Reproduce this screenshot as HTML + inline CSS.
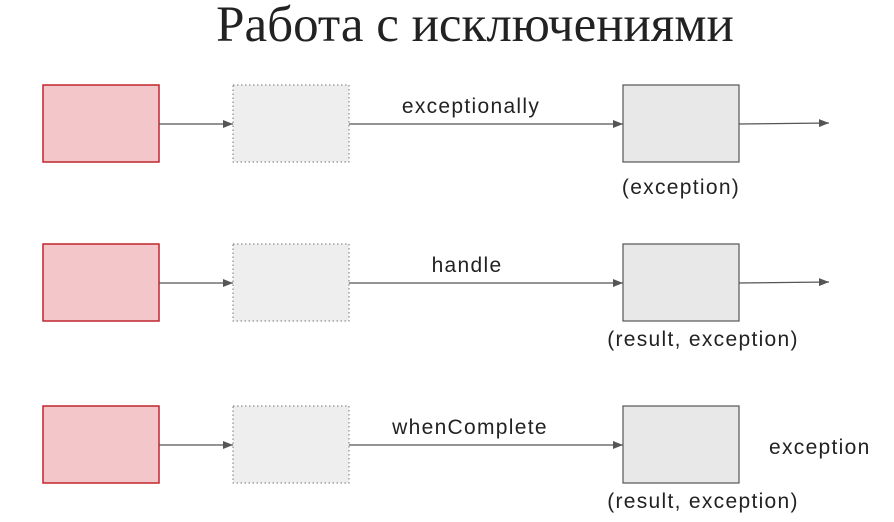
<!DOCTYPE html>
<html><head><meta charset="utf-8"><style>
html,body{margin:0;padding:0;background:#fff;width:894px;height:522px;overflow:hidden}
</style></head><body>
<svg width="894" height="522" xmlns="http://www.w3.org/2000/svg">
<defs><marker id="a" markerWidth="10" markerHeight="8" refX="10" refY="4" orient="auto" markerUnits="userSpaceOnUse"><path d="M0,0 L10,4 L0,8 z" fill="#555"/></marker></defs>
<text x="475" y="41" text-anchor="middle" font-family="Liberation Serif, serif" font-size="51" fill="#222">Работа с исключениями</text>
<g font-family="Liberation Sans, sans-serif" font-size="21" fill="#222" letter-spacing="1.3">
<g>
<rect x="43" y="85" width="116" height="77" fill="#f3c6ca" stroke="#c0272d" stroke-width="1.5"/>
<rect x="233" y="85" width="116" height="77" fill="#eeeeee" stroke="#777" stroke-dasharray="1.5,2.5"/>
<rect x="623" y="85" width="116" height="77" fill="#e8e8e8" stroke="#555" stroke-width="1.2"/>
<line x1="159" y1="124" x2="233" y2="124" stroke="#555" stroke-width="1.3" marker-end="url(#a)"/>
<line x1="349" y1="124" x2="623" y2="124" stroke="#555" stroke-width="1.3" marker-end="url(#a)"/>
<line x1="739" y1="124" x2="829" y2="123" stroke="#555" stroke-width="1.3" marker-end="url(#a)"/>
<text x="471" y="113" text-anchor="middle">exceptionally</text>
<text x="681" y="194" text-anchor="middle">(exception)</text>
</g>
<g>
<rect x="43" y="244" width="116" height="77" fill="#f3c6ca" stroke="#c0272d" stroke-width="1.5"/>
<rect x="233" y="244" width="116" height="77" fill="#eeeeee" stroke="#777" stroke-dasharray="1.5,2.5"/>
<rect x="623" y="244" width="116" height="77" fill="#e8e8e8" stroke="#555" stroke-width="1.2"/>
<line x1="159" y1="283" x2="233" y2="283" stroke="#555" stroke-width="1.3" marker-end="url(#a)"/>
<line x1="349" y1="283" x2="623" y2="283" stroke="#555" stroke-width="1.3" marker-end="url(#a)"/>
<line x1="739" y1="283" x2="829" y2="282" stroke="#555" stroke-width="1.3" marker-end="url(#a)"/>
<text x="467" y="272" text-anchor="middle">handle</text>
<text x="703" y="346" text-anchor="middle">(result, exception)</text>
</g>
<g>
<rect x="43" y="406" width="116" height="77" fill="#f3c6ca" stroke="#c0272d" stroke-width="1.5"/>
<rect x="233" y="406" width="116" height="77" fill="#eeeeee" stroke="#777" stroke-dasharray="1.5,2.5"/>
<rect x="623" y="406" width="116" height="77" fill="#e8e8e8" stroke="#555" stroke-width="1.2"/>
<line x1="159" y1="445" x2="233" y2="445" stroke="#555" stroke-width="1.3" marker-end="url(#a)"/>
<line x1="349" y1="445" x2="623" y2="445" stroke="#555" stroke-width="1.3" marker-end="url(#a)"/>
<text x="470" y="434" text-anchor="middle">whenComplete</text>
<text x="703" y="508" text-anchor="middle">(result, exception)</text>
<text x="769" y="454">exception</text>
</g>
</g>
</svg>
</body></html>
